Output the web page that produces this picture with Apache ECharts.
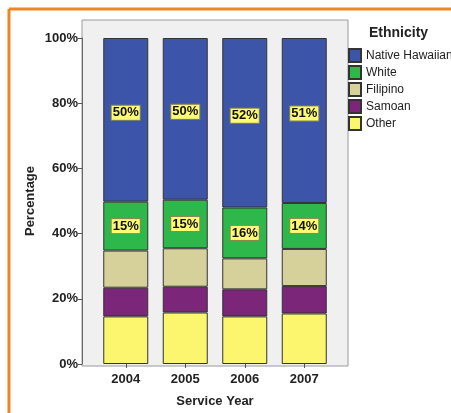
<!DOCTYPE html>
<html>
<head>
<meta charset="utf-8">
<script src="https://cdn.jsdelivr.net/npm/echarts@6/dist/echarts.min.js"></script>
<style>
  html, body { margin: 0; padding: 0; background: #ffffff; }
  #chart { width: 451px; height: 413px; }
</style>
</head>
<body>
<div id="chart"></div>
<script>
// Ethnicity share (%) by service year
const years = ['2004', '2005', '2006', '2007'];
const other = [14.6, 15.8, 14.6, 15.5];
const samoan = [8.8, 7.9, 8.3, 8.4];
const filipino = [11.4, 11.8, 9.5, 11.4];
const white = [15.0, 14.9, 15.6, 14.1];
const nativeHawaiian = [50.2, 49.6, 52.0, 50.6];
const yTicks = [0, 20, 40, 60, 80, 100];

const FONT = '"Liberation Sans", Arial, sans-serif';

const valueLabel = {
  show: true,
  position: 'inside',
  formatter: p => Math.round(p.value) + '%',
  color: '#111',
  fontFamily: FONT,
  fontWeight: 'bold',
  fontSize: 13,
  backgroundColor: '#fdfb74',
  borderColor: '#8a8a50',
  borderWidth: 1,
  padding: [1, 1, 0, 1]
};

function stackSeries(name, data, color, label) {
  return {
    name: name,
    type: 'bar',
    stack: 'total',
    data: data,
    barWidth: 45,
    itemStyle: { color: color, borderColor: '#333', borderWidth: 1 },
    label: label || { show: false },
    emphasis: { disabled: true }
  };
}

const chart = echarts.init(document.getElementById('chart'), null, { renderer: 'canvas' });
chart.setOption({
  animation: false,
  backgroundColor: '#ffffff',
  grid: [
    // grey plot frame
    { left: 82, top: 20, width: 266, height: 346, show: true,
      backgroundColor: '#f0f0f0', borderColor: '#9a9a9a', borderWidth: 1 },
    // bar area
    { left: 96, top: 38, width: 238, height: 328 }
  ],
  xAxis: [{
    gridIndex: 1,
    type: 'category',
    data: years,
    boundaryGap: true,
    axisLine: { show: false },
    axisTick: { show: true, alignWithLabel: true, length: 4, lineStyle: { color: '#555' } },
    axisLabel: { color: '#222', fontFamily: FONT, fontWeight: 'bold', fontSize: 13, margin: 9 },
    name: 'Service Year',
    nameLocation: 'middle',
    nameGap: 31,
    nameMoveOverlap: false,
    nameTextStyle: { color: '#222', fontFamily: FONT, fontWeight: 'bold', fontSize: 13 }
  }],
  yAxis: [{
    gridIndex: 1,
    type: 'value',
    min: 0,
    max: 100,
    interval: 20,
    offset: 14,
    splitLine: { show: false },
    axisLine: { show: true, lineStyle: { color: '#666' } },
    axisTick: { show: true, length: 4, lineStyle: { color: '#555' } },
    axisLabel: {
      color: '#222', fontFamily: FONT, fontWeight: 'bold', fontSize: 13, margin: 4,
      formatter: v => (yTicks.indexOf(v) >= 0 ? v + '%' : '')
    },
    name: 'Percentage',
    nameLocation: 'middle',
    nameGap: 45,
    nameMoveOverlap: false,
    nameRotate: 90,
    nameTextStyle: { color: '#222', fontFamily: FONT, fontWeight: 'bold', fontSize: 13 }
  }],
  legend: {
    orient: 'vertical',
    left: 348,
    top: 48,
    padding: 0,
    itemWidth: 12,
    itemHeight: 13,
    itemGap: 2,
    icon: 'rect',
    data: ['Native Hawaiian', 'White', 'Filipino', 'Samoan', 'Other'],
    textStyle: { color: '#222', fontFamily: FONT, fontSize: 12 },
    selectedMode: false
  },
  graphic: [
    { type: 'text', left: 369, top: 26,
      style: { text: 'Ethnicity', fill: '#222', font: 'bold 14px ' + FONT } },
    { type: 'line', shape: { x1: 9, y1: 9, x2: 451, y2: 9 },
      style: { stroke: '#f08526', lineWidth: 3 } },
    { type: 'line', shape: { x1: 9, y1: 9, x2: 9, y2: 413 },
      style: { stroke: '#f08526', lineWidth: 3 } }
  ],
  series: [
    stackSeries('Other', other, '#fbf66e'),
    stackSeries('Samoan', samoan, '#7b2679'),
    stackSeries('Filipino', filipino, '#d6d19b'),
    stackSeries('White', white, '#2eb84b', valueLabel),
    stackSeries('Native Hawaiian', nativeHawaiian, '#3c55a9',
      Object.assign({}, valueLabel, { offset: [0, -7] }))
  ]
});
</script>
</body>
</html>
